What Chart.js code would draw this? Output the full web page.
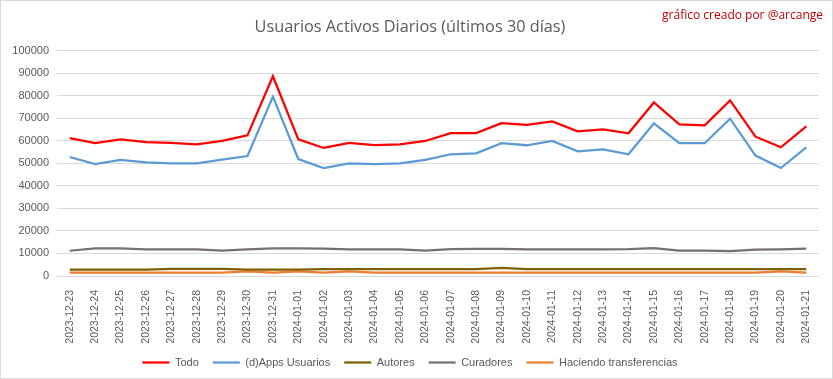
<!DOCTYPE html>
<html>
<head>
<meta charset="utf-8">
<script src="https://cdn.jsdelivr.net/npm/chart.js@4/dist/chart.umd.min.js"></script>
<style>
  body { margin: 0; background: #fff; }
  #wrap { width: 833px; height: 379px; box-sizing: border-box; border: 1px solid #d9d9d9; position: relative; }
</style>
</head>
<body>
<div id="wrap"><canvas id="line-chart"></canvas></div>
<script>
// daily active users, last 30 days
var fechas = ['2023-12-23','2023-12-24','2023-12-25','2023-12-26','2023-12-27','2023-12-28','2023-12-29','2023-12-30','2023-12-31',
  '2024-01-01','2024-01-02','2024-01-03','2024-01-04','2024-01-05','2024-01-06','2024-01-07','2024-01-08','2024-01-09','2024-01-10',
  '2024-01-11','2024-01-12','2024-01-13','2024-01-14','2024-01-15','2024-01-16','2024-01-17','2024-01-18','2024-01-19','2024-01-20','2024-01-21'];

var todo = [61200,59000,60600,59400,59000,58400,59900,62400,88600,60600,56800,59000,58000,58400,59900,63400,63400,67800,67000,68600,
  64200,65000,63300,77000,67300,66800,77900,61800,57100,66400];
var dapps = [52800,49600,51500,50400,50000,50000,51600,53200,79600,51900,47900,50000,49600,50000,51500,54000,54400,58900,58000,59900,
  55300,56200,54000,67700,58900,58900,69800,53400,47900,57100];
var autores = [2800,2800,2800,2800,3200,3200,3200,2800,2800,2800,3100,3100,3100,3100,3100,3100,3100,3600,3100,3100,
  3100,3100,3100,3100,3100,3100,3100,3100,3100,3100];
var curadores = [11200,12200,12200,11800,11800,11800,11300,11800,12200,12200,12100,11800,11800,11800,11300,11900,12000,12000,11800,11800,
  11800,11800,11900,12400,11300,11300,11000,11700,11800,12100];
var transferencias = [1500,1500,1500,1500,1500,1500,1500,2000,1500,2000,1500,2000,1500,1500,1500,1500,1500,1500,1500,1500,
  1500,1500,1500,1500,1500,1500,1500,1500,2000,1500];

var series = [
  {label: 'Todo', data: todo, color: '#FF0000'},
  {label: '(d)Apps Usuarios', data: dapps, color: '#5B9BD5'},
  {label: 'Autores', data: autores, color: '#7F6000'},
  {label: 'Curadores', data: curadores, color: '#767171'},
  {label: 'Haciendo transferencias', data: transferencias, color: '#ED7D31'}
];

var fuente = "'Liberation Sans', Arial, sans-serif";
Chart.defaults.font.family = fuente;
Chart.defaults.color = '#595959';

var credito = {
  id: 'credito',
  afterDraw: function(chart) {
    var ctx = chart.ctx;
    ctx.save();
    ctx.font = "12px 'Open Sans', sans-serif";
    ctx.fillStyle = '#C00000';
    ctx.textAlign = 'right';
    ctx.textBaseline = 'middle';
    ctx.fillText('gráfico creado por @arcange', 822, 15);
    ctx.restore();
  }
};

var datasets = [];
for (x = 0; x < series.length; x++) {
  datasets.push({
    label: series[x].label,
    data: series[x].data,
    borderColor: series[x].color,
    backgroundColor: series[x].color,
    borderWidth: 2.25,
    pointRadius: 0,
    pointStyle: 'line',
    tension: 0,
    fill: false
  });
}

var lineChart = new Chart(document.getElementById('line-chart'), {
  type: 'line',
  data: { labels: fechas, datasets: datasets },
  plugins: [credito],
  options: {
    responsive: true,
    maintainAspectRatio: false,
    animation: false,
    layout: { padding: { left: 0, right: 13, top: 0, bottom: 0 } },
    plugins: {
      title: {
        display: true,
        text: 'Usuarios Activos Diarios (últimos 30 días)',
        font: { family: "'Open Sans', sans-serif", size: 16.3, weight: 'normal' },
        color: '#595959',
        padding: { top: 17, bottom: 13 }
      },
      legend: {
        position: 'bottom',
        labels: {
          usePointStyle: true,
          pointStyle: 'line',
          pointStyleWidth: 27,
          boxHeight: 8,
          padding: 14,
          font: { size: 11 }
        }
      },
      tooltip: { enabled: false }
    },
    scales: {
      x: {
        offset: true,
        grid: { display: false },
        border: { display: false },
        ticks: { maxRotation: 90, minRotation: 90, autoSkip: false, padding: 6, font: { size: 10.5 } },
        afterFit: function(scale) { scale.height = 67; }
      },
      y: {
        min: 0,
        max: 100000,
        ticks: { stepSize: 10000, font: { size: 11 }, padding: 8, callback: function(v) { return String(v); } },
        grid: { color: '#d9d9d9', drawTicks: false },
        border: { display: false },
        afterFit: function(scale) { scale.width = 56; }
      }
    }
  }
});
</script>
</body>
</html>
